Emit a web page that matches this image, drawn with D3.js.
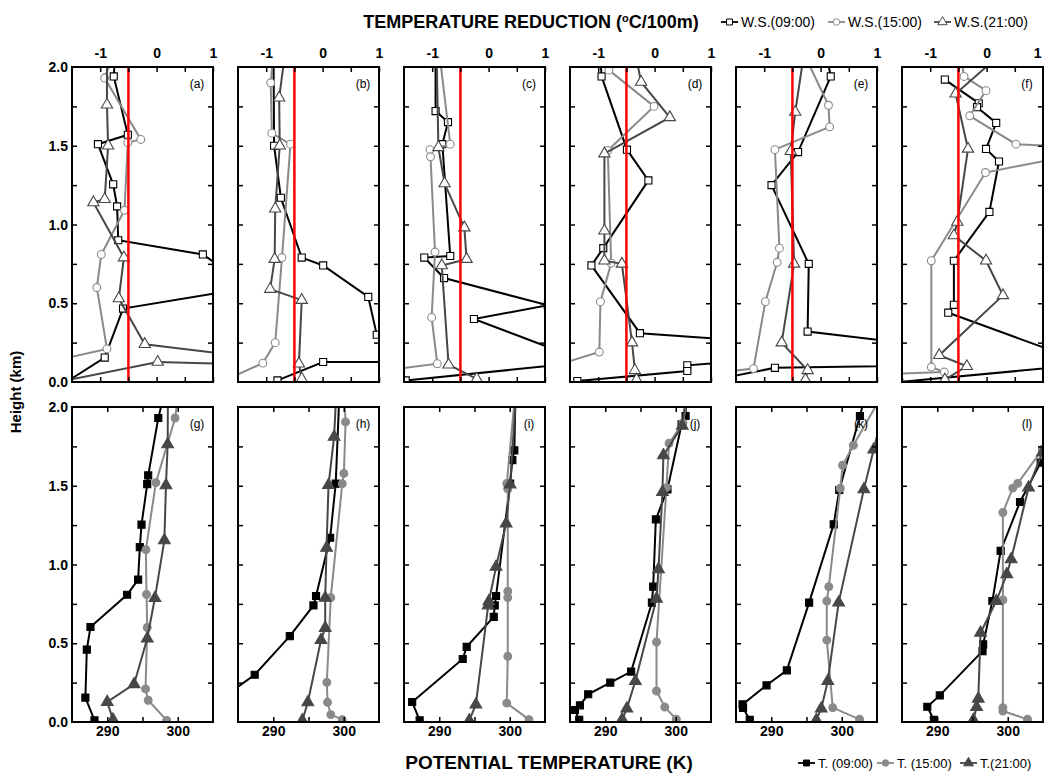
<!DOCTYPE html>
<html>
<head>
<meta charset="utf-8">
<script src="https://cdn.jsdelivr.net/npm/d3@7"></script>
<style>
  body { margin: 0; background: #fff; }
  svg { display: block; }
  text { font-family: "Liberation Sans", Arial, sans-serif; }
</style>
</head>
<body>
<svg id="chart" width="1044" height="776"></svg>
<script>
// ---- data: [value, height km] per panel ----
// temperature reduction (°C/100m), panels a-f
const ws09 = [
  [[-0.74,2.05],[-0.76,1.94],[-0.51,1.57],[-1.04,1.51],[-0.77,1.255],[-0.70,1.115],[-0.68,0.90],[0.82,0.81],[1.66,0.60],[-0.595,0.466],[-0.92,0.155],[-1.6,0.0]],
  [[-0.87,2.05],[-0.86,1.50],[-0.74,1.17],[-0.37,0.79],[0.01,0.74],[0.81,0.54],[0.96,0.30],[1.6,0.127],[0.01,0.127],[-0.80,0.01]],
  [[-0.94,2.05],[-0.94,1.72],[-0.72,1.65],[-0.82,1.51],[-0.68,0.80],[-1.14,0.79],[-0.79,0.66],[1.05,0.487],[-0.26,0.40],[1.76,0.127],[-1.47,0.01]],
  [[-0.96,2.05],[-0.94,1.94],[-0.49,1.475],[-0.11,1.28],[-0.91,0.85],[-1.12,0.74],[-0.26,0.31],[4.0,0.2],[0.58,0.106],[0.58,0.07],[-1.37,0.006]],
  [[0.12,2.05],[0.18,1.94],[-0.40,1.46],[-0.87,1.25],[-0.21,0.75],[-0.23,0.32],[4.5,0.12],[-0.81,0.09],[-1.8,0.02]],
  [[-0.74,1.92],[-0.14,1.77],[-0.17,1.745],[0.17,1.645],[-0.01,1.48],[0.22,1.40],[0.05,1.08],[-0.58,0.77],[-0.58,0.49],[-0.68,0.44],[1.82,0.113],[-1.55,0.0]]
];
const ws15 = [
  [[-0.80,2.05],[-0.92,1.93],[-0.28,1.54],[-0.51,1.52],[-0.57,1.09],[-0.98,0.81],[-1.06,0.60],[-0.88,0.21],[-2.0,0.12]],
  [[-0.88,2.05],[-0.92,1.90],[-0.90,1.58],[-0.57,1.51],[-0.72,0.79],[-0.84,0.25],[-1.06,0.12],[-1.8,0.0]],
  [[-0.86,2.05],[-0.68,1.51],[-1.04,1.475],[-1.03,1.43],[-0.95,0.825],[-1.01,0.41],[-0.91,0.116],[-1.7,0.08]],
  [[-0.84,2.05],[-0.81,1.98],[-0.01,1.75],[-0.83,1.47],[-0.77,0.755],[-0.96,0.51],[-0.98,0.19],[-1.8,0.1]],
  [[-0.25,2.05],[0.14,1.757],[0.16,1.62],[-0.81,1.475],[-0.73,0.85],[-0.77,0.76],[-0.98,0.51],[-1.19,0.085],[-1.8,0.06]],
  [[-0.45,2.05],[-0.40,1.94],[-0.01,1.85],[-0.30,1.69],[0.52,1.51],[2.1,1.48],[-0.02,1.33],[-0.98,0.77],[-0.98,0.095],[-0.75,0.063],[-1.8,0.05]]
];
const ws21 = [
  [[-0.88,2.05],[-0.88,1.76],[-0.86,1.50],[-0.92,1.16],[-1.12,1.14],[-0.58,0.79],[-0.67,0.53],[-0.21,0.24],[3.0,0.10],[0.02,0.127],[-1.6,0.01]],
  [[-0.68,2.05],[-0.77,1.805],[-0.76,1.50],[-0.84,1.10],[-0.85,0.78],[-0.93,0.59],[-0.37,0.52],[-0.42,0.116],[-0.37,0.02]],
  [[-0.92,2.05],[-0.89,1.49],[-0.78,1.26],[-0.43,0.98],[-0.39,0.78],[-0.83,0.74],[-0.71,0.11],[-0.21,0.02]],
  [[-0.32,2.05],[-0.24,1.905],[0.27,1.68],[-0.89,1.45],[-0.89,0.96],[-0.89,0.77],[-0.58,0.75],[-0.40,0.25],[-0.35,0.074],[-0.32,0.015]],
  [[-0.31,2.05],[-0.45,1.714],[-0.53,1.465],[-0.47,0.75],[-0.69,0.25],[-0.23,0.074],[-0.27,0.015]],
  [[0.15,2.05],[-0.55,1.83],[-0.33,1.48],[-0.52,1.016],[-0.58,0.93],[-0.01,0.77],[0.29,0.55],[-0.84,0.17],[-0.35,0.10],[-0.74,0.015]]
];
// potential temperature (K), panels g-l
const t09 = [
  [[297.9,2.05],[297.24,1.93],[295.81,1.566],[295.67,1.51],[294.86,1.253],[294.62,1.11],[294.38,0.904],[292.81,0.808],[287.62,0.603],[287.10,0.46],[286.90,0.155],[288.19,0.01]],
  [[299.35,2.05],[298.86,1.513],[298.07,1.17],[296.07,0.80],[295.70,0.74],[292.35,0.545],[287.37,0.30],[283.0,0.16]],
  [[300.8,2.05],[300.65,1.725],[300.37,1.663],[300.05,1.513],[298.06,0.80],[297.87,0.74],[297.73,0.667],[293.89,0.477],[293.33,0.40],[286.16,0.127],[287.22,0.01]],
  [[301.5,2.05],[301.39,1.943],[300.83,1.89],[298.82,1.477],[297.18,1.287],[296.80,0.859],[296.62,0.758],[293.67,0.32],[290.71,0.25],[287.58,0.176],[286.41,0.106],[285.70,0.076],[286.31,0.013]],
  [[303.2,2.05],[302.58,1.943],[299.65,1.473],[298.86,1.255],[295.37,0.758],[292.21,0.328],[289.33,0.233],[285.93,0.112],[286.0,0.09],[286.95,0.013]],
  [[306.5,1.80],[304.67,1.647],[301.74,1.397],[298.99,1.086],[297.82,0.768],[296.51,0.493],[296.42,0.45],[290.36,0.169],[288.59,0.097],[289.52,0.013]]
];
const t15 = [
  [[300.0,2.05],[299.62,1.93],[296.90,1.52],[295.48,1.094],[295.57,0.81],[295.67,0.60],[295.43,0.21],[295.81,0.138],[298.43,0.01]],
  [[300.1,2.05],[300.26,1.905],[300.02,1.578],[299.79,1.513],[298.16,0.79],[297.60,0.252],[297.70,0.125],[298.16,0.047],[299.79,0.015]],
  [[300.7,2.05],[299.58,1.515],[299.72,1.48],[299.72,0.83],[299.72,0.79],[299.72,0.417],[299.58,0.12],[302.73,0.015]],
  [[301.6,2.05],[301.02,1.90],[299.05,1.77],[298.68,1.488],[297.27,0.508],[297.27,0.197],[298.44,0.095],[300.08,0.017]],
  [[305.4,2.05],[301.65,1.757],[300.12,1.63],[299.79,1.484],[298.16,0.859],[297.88,0.768],[297.88,0.52],[298.72,0.091],[302.53,0.017]],
  [[306.5,1.9],[304.9,1.73],[301.41,1.515],[300.71,1.485],[299.31,1.33],[299.31,0.775],[299.31,0.091],[299.31,0.07],[302.81,0.017]]
];
const t21 = [
  [[298.6,2.05],[298.57,1.763],[298.33,1.503],[298.10,1.153],[296.76,0.787],[295.67,0.53],[293.81,0.24],[290.0,0.127],[290.81,0.015]],
  [[298.9,2.05],[298.63,1.81],[297.84,1.504],[297.56,1.106],[297.37,0.788],[297.37,0.597],[296.77,0.52],[294.91,0.125],[294.12,0.01]],
  [[300.85,2.05],[300.05,1.508],[299.49,1.26],[298.06,0.985],[297.04,0.767],[296.94,0.74],[295.19,0.11],[294.26,0.01]],
  [[301.4,2.05],[300.92,1.88],[298.25,1.693],[298.11,1.46],[297.55,0.97],[297.27,0.783],[294.27,0.26],[293.06,0.085],[292.40,0.017]],
  [[306.3,2.05],[304.53,1.73],[303.14,1.477],[299.56,0.758],[298.02,0.26],[297.09,0.085],[296.40,0.013]],
  [[306.5,1.85],[304.9,1.71],[302.95,1.488],[300.48,1.033],[299.87,0.938],[298.38,0.768],[296.14,0.567],[295.82,0.148],[295.58,0.095],[295.12,0.013]]
];

const topTags = ["(a)","(b)","(c)","(d)","(e)","(f)"];
const bottomTags = ["(g)","(h)","(i)","(j)","(k)","(l)"];
const heightTicks = [0.25,0.5,0.75,1,1.25,1.5,1.75];
const heightLabels = [0,0.5,1,1.5,2];
const reductionTicks = [-1,-0.5,0,0.5,1];
const reductionLabels = [-1,0,1];
const thetaTicks = [290,295,300];
const thetaLabels = [290,300];
const refLapse = -0.5;

// ---- layout ----
const svg = d3.select("#chart");
const W = 141, H = 315, step = 166, left0 = 72;
const rowTop = [67, 407];
const black = "#000", light = "#8a8a8a", dark = "#474747";

const topSeries = [
  {data: ws09, color: black, shape: d3.symbolSquare, size: 50, filled: false, label: "W.S.(09:00)"},
  {data: ws15, color: light, shape: d3.symbolCircle, size: 48, filled: false, label: "W.S.(15:00)"},
  {data: ws21, color: dark, shape: d3.symbolTriangle, size: 55, filled: false, label: "W.S.(21:00)"}
];
const bottomSeries = [
  {data: t09, color: black, shape: d3.symbolSquare, size: 50, filled: true, label: "T. (09:00)"},
  {data: t15, color: light, shape: d3.symbolCircle, size: 48, filled: true, label: "T. (15:00)"},
  {data: t21, color: dark, shape: d3.symbolTriangle, size: 60, filled: true, label: "T.(21:00)"}
];

function styleAxis(g) {
  g.select(".domain").remove();
  g.selectAll(".tick line").attr("stroke", black).attr("stroke-width", 1.5);
  g.selectAll(".tick text").attr("fill", black).attr("font-weight", "bold")
    .attr("font-size", 14).attr("font-family", "Liberation Sans, Arial, sans-serif");
}

function drawPanel(r, i, xDomain, series, xTicks, xLabels, tag) {
  const x0 = left0 + i * step, y0 = rowTop[r];
  const x = d3.scaleLinear().domain(xDomain).range([x0, x0 + W]);
  const y = d3.scaleLinear().domain([0, 2]).range([y0 + H, y0]);
  const clipId = "clip" + r + i;
  svg.append("clipPath").attr("id", clipId)
    .append("rect").attr("x", x0).attr("y", y0).attr("width", W).attr("height", H);

  const plot = svg.append("g").attr("clip-path", "url(#" + clipId + ")");
  const line = d3.line().x(d => x(d[0])).y(d => y(d[1]));
  series.forEach(s => {
    const pts = s.data[i];
    plot.append("path").datum(pts).attr("d", line)
      .attr("fill", "none").attr("stroke", s.color).attr("stroke-width", 2);
    plot.selectAll(null).data(pts).join("path")
      .attr("transform", d => "translate(" + x(d[0]) + "," + y(d[1]) + ")")
      .attr("d", d3.symbol(s.shape, s.size))
      .attr("fill", s.filled ? s.color : "#fff")
      .attr("stroke", s.color).attr("stroke-width", 1.1);
  });

  if (r === 0) {
    plot.append("line")
      .attr("x1", x(refLapse)).attr("x2", x(refLapse))
      .attr("y1", y(0)).attr("y2", y(2))
      .attr("stroke", "#ff0000").attr("stroke-width", 2.5);
  }

  const fmtX = d => xLabels.includes(d) ? String(d) : "";
  // labelled x axis: top row on top, bottom row on bottom
  if (r === 0) {
    const ax = svg.append("g").attr("transform", "translate(0," + y0 + ")")
      .call(d3.axisTop(x).tickValues(xTicks).tickSize(-5).tickPadding(9).tickFormat(fmtX))
      .call(styleAxis);
    if (i === 5) {
      // last label sits on the page edge
      ax.selectAll(".tick text").filter(d => d === 1).attr("text-anchor", "end").attr("dx", -2);
    }
    svg.append("g").attr("transform", "translate(0," + (y0 + H) + ")")
      .call(d3.axisBottom(x).tickValues(xTicks).tickSize(-5).tickFormat(""))
      .call(styleAxis);
  } else {
    svg.append("g").attr("transform", "translate(0," + (y0 + H) + ")")
      .call(d3.axisBottom(x).tickValues(xTicks).tickSize(-5).tickPadding(4).tickFormat(fmtX))
      .call(styleAxis);
    svg.append("g").attr("transform", "translate(0," + y0 + ")")
      .call(d3.axisTop(x).tickValues(xTicks).tickSize(-5).tickFormat(""))
      .call(styleAxis);
  }
  svg.append("g").attr("transform", "translate(" + x0 + ",0)")
    .call(d3.axisLeft(y).tickValues(heightTicks).tickSize(-5).tickFormat(""))
    .call(styleAxis);
  svg.append("g").attr("transform", "translate(" + (x0 + W) + ",0)")
    .call(d3.axisRight(y).tickValues(heightTicks).tickSize(-5).tickFormat(""))
    .call(styleAxis);

  if (i === 0) {
    svg.append("g").selectAll("text").data(heightLabels).join("text")
      .attr("x", x0 - 4).attr("y", d => y(d)).attr("dy", "0.36em")
      .attr("text-anchor", "end").attr("font-weight", "bold").attr("font-size", 14)
      .text(d => d3.format(".1f")(d));
  }

  svg.append("rect").attr("x", x0).attr("y", y0).attr("width", W).attr("height", H)
    .attr("fill", "none").attr("stroke", black).attr("stroke-width", 2);

  svg.append("text").attr("x", x0 + W - 16).attr("y", y0 + 21)
    .attr("text-anchor", "middle").attr("font-size", 12).text(tag);
}

for (let i = 0; i < 6; i++) {
  drawPanel(0, i, [-1.5, 1], topSeries, reductionTicks, reductionLabels, topTags[i]);
  drawPanel(1, i, [285, 305], bottomSeries, thetaTicks, thetaLabels, bottomTags[i]);
}

// ---- titles ----
svg.append("text").attr("x", 531).attr("y", 28).attr("text-anchor", "middle")
  .attr("font-weight", "bold").attr("font-size", 18)
  .html("TEMPERATURE REDUCTION (<tspan dy='-6' font-size='11'>o</tspan><tspan dy='6'>C/100m)</tspan>");
svg.append("text").attr("x", 549).attr("y", 769).attr("text-anchor", "middle")
  .attr("font-weight", "bold").attr("font-size", 19).text("POTENTIAL TEMPERATURE (K)");
svg.append("text").attr("transform", "translate(21,392) rotate(-90)").attr("text-anchor", "middle")
  .attr("font-weight", "bold").attr("font-size", 15).text("Height (km)");

// ---- legends ----
function legend(items, xs, cy, fs) {
  items.forEach((s, k) => {
    const g = svg.append("g").attr("transform", "translate(" + xs[k] + "," + cy + ")");
    g.append("line").attr("x1", 0).attr("x2", 17).attr("stroke", s.color).attr("stroke-width", 1.8);
    g.append("path").attr("transform", "translate(8.5,0)")
      .attr("d", d3.symbol(s.shape, s.size * 0.7))
      .attr("fill", s.filled ? s.color : "#fff").attr("stroke", s.color).attr("stroke-width", 1);
    g.append("text").attr("x", 20).attr("dy", "0.36em").attr("font-size", fs).text(s.label);
  });
}
legend(topSeries, [721, 828, 934], 22, 14);
legend(bottomSeries, [798, 877, 960], 763, 13);
</script>
</body>
</html>
